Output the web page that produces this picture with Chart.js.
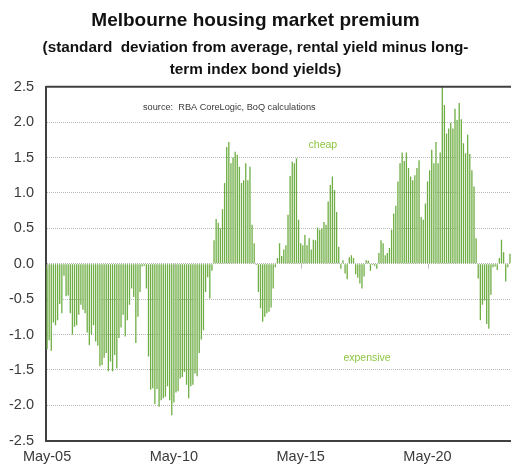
<!DOCTYPE html>
<html><head><meta charset="utf-8">
<script src="https://cdn.jsdelivr.net/npm/chart.js@4.4.1/dist/chart.umd.min.js"></script>
<style>html,body{margin:0;padding:0;background:#fff;}#wrap{width:511px;height:472px;position:relative;}</style>
</head><body><div id="wrap"><canvas id="c"></canvas></div>
<script>
// ---- data (monthly, starting May 2005) ----
const startYear = 2005;
const startMonthIndex = 4; // May
const monthNames = ['Jan','Feb','Mar','Apr','May','Jun','Jul','Aug','Sep','Oct','Nov','Dec'];
const tickLabels = ['May-05','May-10','May-15','May-20'];

const premium2005to2009 = [-1.21,-1.08,-1.23,-0.83,-0.87,-0.80,-0.57,-0.70,-0.17,-0.46,-0.45,-0.70,-1.00,-0.89,-0.87,-0.72,-0.58,-0.65,-0.70,-0.97,-1.15,-1.00,-0.87,-1.10,-1.16,-1.45,-1.43,-1.33,-1.26,-1.52,-1.38,-1.52,-1.29,-1.48,-1.05,-0.90,-0.72,-1.03,-0.80,-0.58,-0.35,-0.47,-1.12,-0.75,-0.40,-0.04,-0.03,-0.35,-1.31,-1.78,-1.76,-1.98,-1.77,-2.02];
const premium2009to2011 = [-1.93,-1.90,-1.88,-1.73,-1.93,-2.14,-1.96,-1.82,-1.80,-1.62,-1.60,-1.53,-1.71,-1.90,-1.73,-1.71,-1.55,-1.59,-1.26,-1.07,-0.94,-0.40,-0.19,-0.49,-0.10];
const premium2011to2013 = [0.33,0.63,0.58,0.50,0.77,1.14,1.65,1.72,1.42,1.50,1.58,1.54,1.37,1.14,1.18,1.42,1.18,1.37,0.55,0.29];
const premium2013to2014 = [-0.02,-0.40,-0.63,-0.82,-0.75,-0.70,-0.68,-0.62,-0.35,-0.05];
const premium2014to2016 = [0.08,0.29,0.11,0.20,0.26,0.69,1.24,1.44,1.42,1.49,0.62,0.29,0.26,0.41,0.26,0.36,0.20,0.34,0.33,0.51];
const premium2016to2017 = [0.48,0.50,0.59,0.55,0.88,1.11,1.23,1.04,0.73,0.24];
const premium2017to2018 = [-0.07,0.05,-0.14,-0.22,0.09,0.12,0.08,-0.15,-0.20,-0.28,-0.35,-0.18,0.05,0.04,-0.10,-0.02,-0.03,-0.07];
const premium2019 = [0.15,0.33,0.29,0.12,0.15,0.22,0.48,0.71,0.82,1.16];
const premium2019to2023 = [1.42,1.57,1.45,1.57,1.35,1.23,1.18,1.25,1.35,1.46,0.66,0.62,0.85,1.16,1.32,1.61,1.42,1.72,1.42,1.57,2.50,2.24,1.84,1.91,1.99,1.91,2.19,2.03,2.27,2.04,1.70,1.56,1.82,1.55,1.32,1.09,0.36,-0.21,-0.80,-0.58,-0.52,-0.85,-0.92,-0.44,-0.05,-0.04,-0.09,0.08,0.34,0.16,-0.25,-0.05,0.14];

const premium = [].concat(premium2005to2009, premium2009to2011, premium2011to2013, premium2013to2014,
  premium2014to2016, premium2016to2017, premium2017to2018, premium2019, premium2019to2023);

const categories = premium.map((_, i) => {
  const m = startMonthIndex + i;
  const y = startYear + Math.floor(m / 12);
  return monthNames[m % 12] + '-' + String(y % 100).padStart(2, '0');
});

const FONT = "'Liberation Sans',Arial,sans-serif";
const TXT = '#3a3a3a';

const notesPlugin = {
  id: 'notes',
  afterDatasetsDraw(chart, args, opts) {
    const {ctx, scales: {x, y}} = chart;
    ctx.save();
    opts.items.forEach(n => {
      ctx.font = n.size + 'px ' + FONT;
      ctx.fillStyle = n.color;
      ctx.textAlign = n.align;
      ctx.textBaseline = 'middle';
      ctx.fillText(n.text, x.getPixelForValue(n.cat), y.getPixelForValue(n.val));
    });
    ctx.restore();
  }
};

const framePlugin = {
  id: 'frame',
  afterDraw(chart) {
    const {ctx, chartArea: a, scales: {x, y}} = chart;
    ctx.save();
    ctx.strokeStyle = '#404040';
    ctx.lineWidth = 2;
    ctx.beginPath();
    ctx.moveTo(a.left, a.top); ctx.lineTo(a.right, a.top);
    ctx.stroke();
    const y0 = y.getPixelForValue(0);
    ctx.strokeStyle = '#bdbdbd';
    ctx.lineWidth = 1;
    categories.forEach((c, i) => {
      if (tickLabels.includes(c)) {
        const px = Math.round(x.getPixelForValue(i)) + 0.5;
        ctx.beginPath(); ctx.moveTo(px, y0); ctx.lineTo(px, y0 + 5); ctx.stroke();
      }
    });
    ctx.restore();
  }
};

new Chart(document.getElementById('c'), {
  type: 'bar',
  data: {
    labels: categories,
    datasets: [{
      data: premium,
      backgroundColor: '#6FAE45',
      borderWidth: 0,
      barPercentage: 0.62,
      categoryPercentage: 1.0
    }]
  },
  options: {
    responsive: true,
    maintainAspectRatio: false,
    animation: false,
    devicePixelRatio: 1,
    layout: {padding: {left: 0, right: 0, top: 0, bottom: 0}},
    plugins: {
      legend: {display: false},
      tooltip: {enabled: false},
      title: {
        display: true,
        text: 'Melbourne housing market premium',
        color: '#111',
        font: {family: FONT, size: 19, weight: 'bold', lineHeight: 1.2},
        padding: {top: 9.6, bottom: 4.6}
      },
      subtitle: {
        display: true,
        text: ['(standard  deviation from average, rental yield minus long-', 'term index bond yields)'],
        color: '#111',
        font: {family: FONT, size: 15.3, weight: 'bold', lineHeight: 22 / 15.3},
        padding: {top: 0, bottom: 5.7}
      },
      notes: {
        items: [
          {text: 'source:  RBA CoreLogic, BoQ calculations', cat: 45.4, val: 2.2, color: TXT, size: 9.2, align: 'left'},
          {text: 'cheap', cat: 130.5, val: 1.68, color: '#8DC63F', size: 10.5, align: 'center'},
          {text: 'expensive', cat: 151.4, val: -1.33, color: '#8DC63F', size: 10.5, align: 'center'}
        ]
      }
    },
    scales: {
      x: {
        type: 'category',
        offset: true,
        grid: {display: false, drawTicks: false},
        border: {display: true, color: '#404040', width: 2},
        ticks: {
          autoSkip: false,
          maxRotation: 0,
          minRotation: 0,
          padding: 8,
          color: TXT,
          font: {family: FONT, size: 14.5},
          callback(v) {
            const l = this.getLabelForValue(v);
            return tickLabels.includes(l) ? l : '';
          }
        },
        afterFit(s) { s.height = 31.3; s.paddingLeft = 0; s.paddingRight = 0; }
      },
      y: {
        min: -2.5,
        max: 2.5,
        grid: {color: '#b8b8b8', lineWidth: 1, drawTicks: false},
        border: {display: true, color: '#404040', width: 2, dash: [1, 1]},
        ticks: {
          stepSize: 0.5,
          padding: 12,
          color: TXT,
          font: {family: FONT, size: 14.5},
          callback(v) { return Number(v).toFixed(1); }
        },
        afterFit(s) { s.width = 46; }
      }
    }
  },
  plugins: [notesPlugin, framePlugin]
});
</script>
</body></html>
